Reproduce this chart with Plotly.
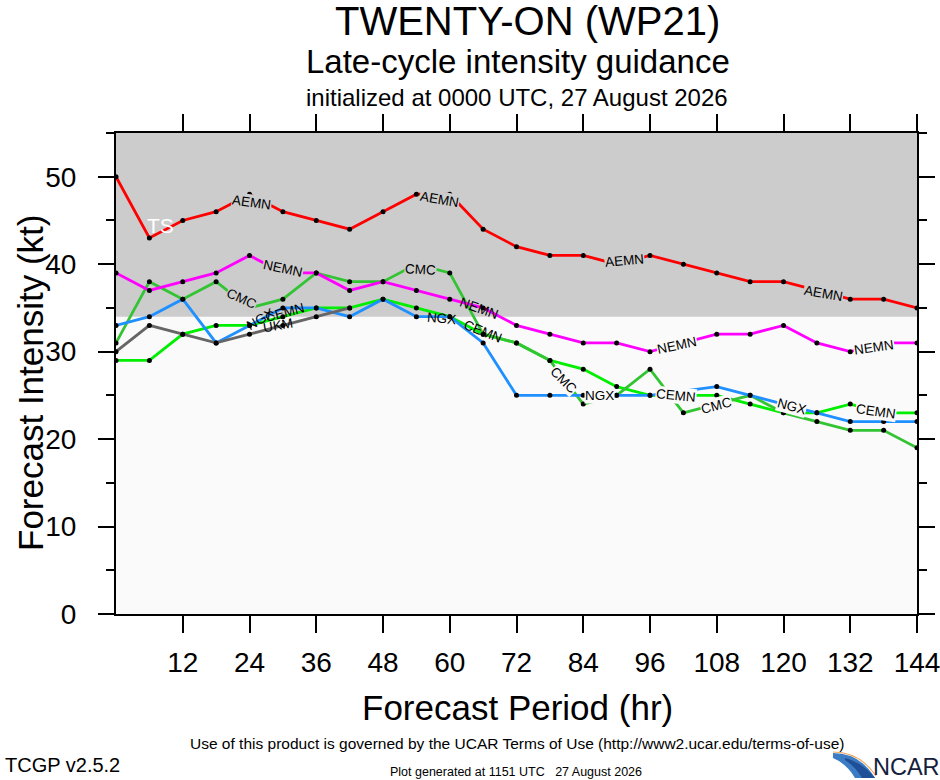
import plotly.graph_objects as go

# ---------------- data ----------------
hours = list(range(0, 145, 6))
aemn = [50, 43, 45, 46, 48, 46, 45, 44, 46, 48, 48, 44, 42, 41, 41, 40, 41, 40, 39, 38, 38, 37, 36, 36, 35]
nemn = [39, 37, 38, 39, 41, 39, 39, 37, 38, 37, 36, 35, 33, 32, 31, 31, 30, 31, 32, 32, 33, 31, 30, 31, 31]
cmc = [31, 38, 36, 38, 35, 36, 39, 38, 38, 40, 39, 32, 31, 29, 24, 25, 28, 23, 24, 25, 23, 22, 21, 21, 19]
cemn = [29, 29, 32, 33, 33, 34, 35, 35, 36, 35, 34, 32, 31, 29, 28, 26, 25, 25, 25, 24, 23, 23, 24, 23, 23]
ngx = [33, 34, 36, 31, 33, 35, 35, 34, 36, 34, 34, 31, 25, 25, 25, 25, 25, None, 26, 25, 24, 23, 22, 22, 22]
ukm = [30, 33, 32, 31, 32, 33, 34, 35]
ukm_hours = hours[:len(ukm)]

x_ticks = [12, 24, 36, 48, 60, 72, 84, 96, 108, 120, 132, 144]
y_ticks = [0, 10, 20, 30, 40, 50]
y_minor = [5, 15, 25, 35, 45, 55]
ts_kt = 34
y_top = 55

# model labels: (text, hour, kt, angle)
labels = [
    ("AEMN", 24.3, 47.0, 8), ("AEMN", 58.2, 47.4, 10), ("AEMN", 91.5, 40.4, -5), ("AEMN", 127.2, 36.7, 10),
    ("NEMN", 30.1, 39.5, 12), ("NEMN", 65.3, 34.9, 20), ("NEMN", 100.8, 30.7, -12), ("NEMN", 136.2, 30.45, -8),
    ("CMC", 22.5, 36.05, 25), ("CMC", 54.8, 39.4, 3), ("CMC", 80.5, 26.7, 45), ("CMC", 108.0, 23.8, -15),
    ("NGX", 25.9, 33.65, -30), ("CEMN", 30.4, 34.45, -15), ("UKM", 29.15, 33.0, -10),
    ("NGX", 58.6, 33.8, 5), ("CEMN", 66.0, 32.3, 22), ("NGX", 87.0, 25.0, 0), ("CEMN", 100.6, 25.0, 5),
    ("NGX", 121.5, 23.7, 15), ("CEMN", 136.7, 23.2, 8),
]
no_bg = {5, 12, 13, 14, 15, 16}

FONT = "Liberation Sans, Arial, Helvetica, sans-serif"
W, H = 940, 780
ML, MR, MT, MB = 116, 23, 133, 166
PW, PH = W - ML - MR, H - MT - MB


def px(x):
    return (x - ML) / PW


def py(y):
    return (H - MB - y) / PH


fig = go.Figure()

series = [
    ("CEMN", hours, cemn, "#00ee00"),
    ("CMC", hours, cmc, "#33c433"),
    ("NGX", hours, ngx, "#1e90ff"),
    ("UKM", ukm_hours, ukm, "#666666"),
    ("NEMN", hours, nemn, "#ff00ff"),
    ("AEMN", hours, aemn, "#ff0000"),
]
for name, xs, ys, col in series:
    fig.add_trace(go.Scatter(
        x=xs, y=ys, mode="lines+markers", name=name, connectgaps=True,
        line=dict(color=col, width=2.8),
        marker=dict(color="black", size=5),
        showlegend=False, hoverinfo="skip"))

shapes = [dict(type="rect", xref="x", yref="y", x0=0, x1=144, y0=ts_kt, y1=y_top,
               fillcolor="#cccccc", line=dict(width=0), layer="below")]


def pth(pts):
    s = ""
    for p in pts:
        cmd = p[0]
        coords = " ".join(f"{px(a):.4f},{py(b):.4f}" for a, b in p[1:])
        s += f"{cmd} {coords} "
    return s + "Z"


# NCAR swoosh
swoosh = pth([("M", (833, 753)), ("Q", (860, 753), (875, 778)), ("L", (855, 778)), ("Q", (847, 764), (833, 758))])
shapes.append(dict(type="path", xref="paper", yref="paper", path=swoosh,
                   fillcolor="#3b7cc4", line=dict(width=0), layer="above"))
swoosh2 = pth([("M", (845, 758)), ("Q", (862, 762), (875, 778)), ("L", (862, 778)), ("Q", (856, 767), (845, 760))])
shapes.append(dict(type="path", xref="paper", yref="paper", path=swoosh2,
                   fillcolor="#1f4f96", line=dict(width=0), layer="above"))
shapes.append(dict(type="path", xref="paper", yref="paper",
                   path=f"M {px(833):.4f},{py(752):.4f} Q {px(860):.4f},{py(752):.4f} {px(876):.4f},{py(776):.4f}",
                   line=dict(color="#f0a860", width=1.2), layer="above"))

ann = []
for i, (t, hx, ky, ang) in enumerate(labels):
    a = dict(x=hx, y=ky, xref="x", yref="y", text=t, showarrow=False, textangle=ang,
             font=dict(family=FONT, size=13.5, color="black"), borderpad=0)
    if i not in no_bg:
        a["bgcolor"] = "#cccccc" if ky > ts_kt else "#fafafa"
    ann.append(a)

ann.append(dict(x=8.05, y=44.45, xref="x", yref="y", text="TS", showarrow=False,
                font=dict(family=FONT, size=21, color="white")))


def pa(text, x, y, size, xanchor="center", angle=0, color="black"):
    return dict(x=px(x), y=py(y), xref="paper", yref="paper", text=text, showarrow=False,
                xanchor=xanchor, yanchor="middle", textangle=angle,
                font=dict(family=FONT, size=size, color=color))


ann += [
    pa("TWENTY-ON (WP21)", 527, 21, 40),
    pa("Late-cycle intensity guidance", 518, 62, 33),
    pa("initialized at 0000 UTC, 27 August 2026", 517, 97, 24),
    pa("Forecast Period (hr)", 517, 707, 35),
    pa("Forecast Intensity (kt)", 30, 383, 35, angle=-90),
    pa("Use of this product is governed by the UCAR Terms of Use (http://www2.ucar.edu/terms-of-use)", 516.5, 743.5, 15.5),
    pa("TCGP v2.5.2", 3, 765, 20, xanchor="left"),
    pa("Plot generated at 1151 UTC\u00a0\u00a0\u00a027 August 2026", 516, 772, 12.5),
    pa("NCAR", 871, 767, 23.5, xanchor="left", color="#14213d"),
]

fig.update_layout(
    width=W, height=H, margin=dict(l=ML, r=MR, t=MT, b=MB, autoexpand=False),
    paper_bgcolor="white", plot_bgcolor="#fafafa",
    shapes=shapes, annotations=ann, showlegend=False,
    xaxis=dict(range=[0, 144], tickvals=x_ticks, ticks="outside", ticklen=17, tickwidth=1.5,
               tickcolor="black", showline=True, linewidth=2, linecolor="black", mirror="ticks",
               showgrid=False, zeroline=False, ticklabelstandoff=5, automargin=False,
               ticklabeloverflow="allow",
               tickfont=dict(family=FONT, size=28, color="black")),
    yaxis=dict(range=[0, y_top], tickvals=y_ticks, ticks="outside", ticklen=16, tickwidth=1.5,
               tickcolor="black", showline=True, linewidth=2, linecolor="black", mirror="ticks",
               showgrid=False, zeroline=False, ticklabelstandoff=16, automargin=False,
               ticklabeloverflow="allow",
               minor=dict(tickvals=y_minor, ticks="outside", ticklen=8, tickwidth=1.5,
                          tickcolor="black", showgrid=False),
               tickfont=dict(family=FONT, size=28, color="black")),
)

fig.write_html("out.html", config={"displayModeBar": False},
               post_script="document.body.style.margin='0';document.body.style.overflow='hidden';")
